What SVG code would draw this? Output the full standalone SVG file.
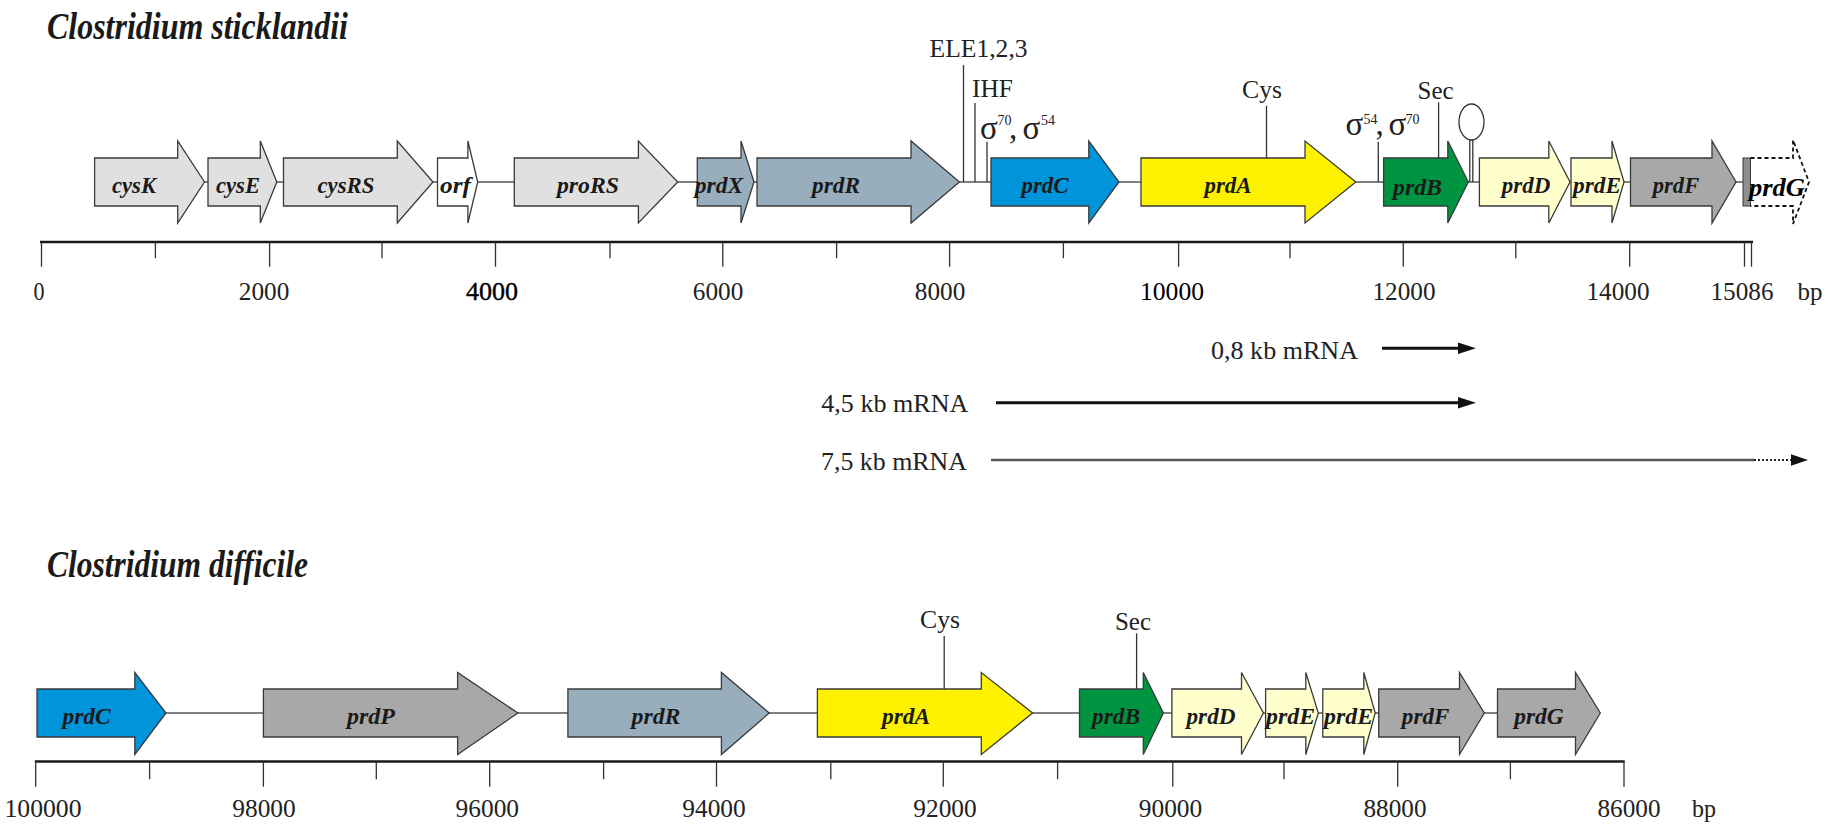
<svg xmlns="http://www.w3.org/2000/svg" width="1832" height="835" viewBox="0 0 1832 835">
<defs>
<style>
.g{stroke:#3a3a3a;stroke-width:1.3}
.lg{fill:#E0E0E0}.wh{fill:#FFFFFF}.bg{fill:#98AEBD}.bl{fill:#0094DB}.ye{fill:#FFF200}.gr{fill:#009440}.py{fill:#FFFFCC}.gy{fill:#A8A8A8}
.lab{font-family:"Liberation Serif",serif;font-style:italic;font-weight:bold;font-size:24px;fill:#1a1a1a;text-anchor:middle}
.title{font-family:"Liberation Serif",serif;font-style:italic;font-weight:bold;font-size:38px;fill:#1a1a1a}
.t{font-family:"Liberation Serif",serif;font-size:26px;fill:#222;text-anchor:middle}
.ax{font-family:"Liberation Serif",serif;font-size:26px;fill:#222;text-anchor:middle}
.mr{font-family:"Liberation Serif",serif;font-size:25px;fill:#222}
.sg{font-family:"Liberation Serif",serif;font-size:33px;fill:#222}
.sp{font-family:"Liberation Serif",serif;font-size:14px;fill:#222}
.bb{stroke:#555;stroke-width:1.5;fill:none}
.an{stroke:#333;stroke-width:1.3;fill:none}
.axis{stroke:#1a1a1a;stroke-width:2.5;fill:none}
.tk{stroke:#333;stroke-width:1.3;fill:none}
</style>
</defs>
<rect width="1832" height="835" fill="#FFFFFF"/>

<text class="title" x="47" y="39" textLength="301" lengthAdjust="spacingAndGlyphs">Clostridium sticklandii</text>
<text class="title" x="47" y="577" textLength="261" lengthAdjust="spacingAndGlyphs">Clostridium difficile</text>

<g id="connectors">
<line class="bb" x1="204" y1="182" x2="1743" y2="182"/>
<line class="bb" x1="166" y1="713" x2="1498" y2="713"/>
<line class="an" x1="963.5" y1="65" x2="963.5" y2="182"/>
<line class="an" x1="975" y1="103" x2="975" y2="182"/>
<line class="an" x1="987" y1="141.7" x2="987" y2="182"/>
<line class="an" x1="1266.5" y1="105.7" x2="1266.5" y2="158"/>
<line class="an" x1="1378.3" y1="141.7" x2="1378.3" y2="182"/>
<line class="an" x1="1438.6" y1="102.3" x2="1438.6" y2="158"/>
<line class="an" x1="944.2" y1="636" x2="944.2" y2="689"/>
<line class="an" x1="1136.6" y1="633.3" x2="1136.6" y2="689"/>
<line x1="1382" y1="348.3" x2="1460" y2="348.3" stroke="#111" stroke-width="3"/>
<polygon points="1458,342.5 1476,348.3 1458,354.1" fill="#111"/>
<line x1="996" y1="402.7" x2="1460" y2="402.7" stroke="#111" stroke-width="3"/>
<polygon points="1458,397 1476,402.7 1458,408.4" fill="#111"/>
<line x1="991" y1="460" x2="1754" y2="460" stroke="#555" stroke-width="2.5"/>
<line x1="1754" y1="460" x2="1792" y2="460" stroke="#222" stroke-width="2" stroke-dasharray="2,2"/>
<polygon points="1791,454.3 1808,460 1791,465.7" fill="#111"/>
</g>

<g id="terminator">
<line class="an" x1="1469.8" y1="140" x2="1469.8" y2="182"/>
<line class="an" x1="1472.8" y1="140" x2="1472.8" y2="182"/>
<ellipse cx="1471.5" cy="122" rx="12.5" ry="18" fill="#FFFFFF" stroke="#333" stroke-width="1.3"/>
</g>

<g id="annotations">
<text class="t" x="978.6" y="56.7" textLength="98" lengthAdjust="spacingAndGlyphs">ELE1,2,3</text>
<text class="t" x="992.5" y="96.7" textLength="41" lengthAdjust="spacingAndGlyphs">IHF</text>
<text class="t" x="1262" y="98.3" textLength="40" lengthAdjust="spacingAndGlyphs">Cys</text>
<text class="t" x="1435.6" y="99" textLength="36" lengthAdjust="spacingAndGlyphs">Sec</text>
<text class="t" x="940" y="628.3" textLength="40" lengthAdjust="spacingAndGlyphs">Cys</text>
<text class="t" x="1133" y="630" textLength="36" lengthAdjust="spacingAndGlyphs">Sec</text>
<text class="sg" x="980" y="138.5">σ</text>
<text class="sp" x="997.5" y="125">70</text>
<text class="sg" x="1009" y="138.5">,</text>
<text class="sg" x="1022.5" y="138.5">σ</text>
<text class="sp" x="1041" y="125">54</text>
<text class="sg" x="1345.5" y="135">σ</text>
<text class="sp" x="1363.5" y="124">54</text>
<text class="sg" x="1375.5" y="135">,</text>
<text class="sg" x="1388.5" y="135">σ</text>
<text class="sp" x="1405.5" y="124">70</text>
</g>

<g id="mrna-labels">
<text class="mr" x="1211" y="359.3" textLength="147" lengthAdjust="spacingAndGlyphs">0,8 kb mRNA</text>
<text class="mr" x="821.3" y="411.7" textLength="147" lengthAdjust="spacingAndGlyphs">4,5 kb mRNA</text>
<text class="mr" x="821" y="470" textLength="146" lengthAdjust="spacingAndGlyphs">7,5 kb mRNA</text>
</g>

<g id="axis-top">
<line class="axis" x1="40" y1="242" x2="1753" y2="242"/>
<path class="tk" d="M41.5,242V266.7M269.6,242V266.7M495.5,242V266.7M722.8,242V266.7M949.6,242V266.7M1178.6,242V266.7M1403.3,242V266.7M1629.7,242V266.7M1744.5,242V266.7M1751.5,242V266.7M155.4,242V258.3M382,242V258.3M610,242V258.3M836.6,242V258.3M1063.4,242V258.3M1290,242V258.3M1515.8,242V258.3"/>
<text class="ax" x="39" y="300" textLength="11" lengthAdjust="spacingAndGlyphs">0</text>
<text class="ax" x="264" y="300" textLength="50.5" lengthAdjust="spacingAndGlyphs">2000</text>
<text class="ax" x="492" y="300" textLength="52" lengthAdjust="spacingAndGlyphs" style="fill:#000;stroke:#000;stroke-width:0.4">4000</text>
<text class="ax" x="718" y="300" textLength="50.5" lengthAdjust="spacingAndGlyphs">6000</text>
<text class="ax" x="940" y="300" textLength="50.5" lengthAdjust="spacingAndGlyphs">8000</text>
<text class="ax" x="1172" y="300" textLength="64" lengthAdjust="spacingAndGlyphs" style="fill:#000">10000</text>
<text class="ax" x="1404" y="300" textLength="63" lengthAdjust="spacingAndGlyphs">12000</text>
<text class="ax" x="1618" y="300" textLength="63" lengthAdjust="spacingAndGlyphs">14000</text>
<text class="ax" x="1742" y="300" textLength="63" lengthAdjust="spacingAndGlyphs">15086</text>
<text class="ax" x="1810" y="300" textLength="25" lengthAdjust="spacingAndGlyphs">bp</text>
</g>

<g id="axis-bottom">
<line class="axis" x1="34.8" y1="761.5" x2="1624.7" y2="761.5"/>
<path class="tk" d="M35.7,761.5V786.7M263.4,761.5V786.7M489.7,761.5V786.7M716.5,761.5V786.7M943.3,761.5V786.7M1172.8,761.5V786.7M1397.7,761.5V786.7M1624,761.5V786.7M149.6,761.5V779.3M376.3,761.5V779.3M603.6,761.5V779.3M830.8,761.5V779.3M1057.6,761.5V779.3M1284,761.5V779.3M1510.4,761.5V779.3"/>
<text class="ax" x="43" y="816.7" textLength="77" lengthAdjust="spacingAndGlyphs">100000</text>
<text class="ax" x="264" y="816.7" textLength="63.5" lengthAdjust="spacingAndGlyphs">98000</text>
<text class="ax" x="487.3" y="816.7" textLength="63.5" lengthAdjust="spacingAndGlyphs">96000</text>
<text class="ax" x="714" y="816.7" textLength="63.5" lengthAdjust="spacingAndGlyphs">94000</text>
<text class="ax" x="945" y="816.7" textLength="63.5" lengthAdjust="spacingAndGlyphs">92000</text>
<text class="ax" x="1170.5" y="816.7" textLength="63.5" lengthAdjust="spacingAndGlyphs">90000</text>
<text class="ax" x="1395" y="816.7" textLength="63" lengthAdjust="spacingAndGlyphs">88000</text>
<text class="ax" x="1629" y="816.7" textLength="63" lengthAdjust="spacingAndGlyphs">86000</text>
<text class="ax" x="1704" y="816.7" textLength="24" lengthAdjust="spacingAndGlyphs">bp</text>
</g>

<g id="top-cysK"><polygon class="g lg" points="94.6,158 177.7,158 177.7,141 204.5,182 177.7,223 177.7,206 94.6,206"/><text class="lab" x="134" y="193" textLength="44" lengthAdjust="spacingAndGlyphs">cysK</text></g>
<g id="top-cysE"><polygon class="g lg" points="208,158 260.3,158 260.3,141 276.8,182 260.3,223 260.3,206 208,206"/><text class="lab" x="238" y="193" textLength="44" lengthAdjust="spacingAndGlyphs">cysE</text></g>
<g id="top-cysRS"><polygon class="g lg" points="283.5,158 397.3,158 397.3,141 433,182 397.3,223 397.3,206 283.5,206"/><text class="lab" x="346" y="193" textLength="57" lengthAdjust="spacingAndGlyphs">cysRS</text></g>
<g id="top-orf"><polygon class="g wh" points="437.5,158 467.9,158 467.9,141 477.7,182 467.9,223 467.9,206 437.5,206"/><text class="lab" x="455.5" y="193" textLength="31" lengthAdjust="spacingAndGlyphs">orf</text></g>
<g id="top-proRS"><polygon class="g lg" points="514.3,158 638.4,158 638.4,141 677.7,182 638.4,223 638.4,206 514.3,206"/><text class="lab" x="588" y="193" textLength="62" lengthAdjust="spacingAndGlyphs">proRS</text></g>
<g id="top-prdX"><polygon class="g bg" points="697.3,158 741,158 741,141 754,182 741,223 741,206 697.3,206"/><text class="lab" x="719" y="193" textLength="48.5" lengthAdjust="spacingAndGlyphs">prdX</text></g>
<g id="top-prdR"><polygon class="g bg" points="757,158 911,158 911,141 959.4,182 911,223 911,206 757,206"/><text class="lab" x="836" y="193" textLength="48" lengthAdjust="spacingAndGlyphs">prdR</text></g>
<g id="top-prdC"><polygon class="g bl" points="991,158 1088.8,158 1088.8,141 1119,182 1088.8,223 1088.8,206 991,206"/><text class="lab" x="1045" y="193" textLength="47" lengthAdjust="spacingAndGlyphs">prdC</text></g>
<g id="top-prdA"><polygon class="g ye" points="1141,158 1305,158 1305,141 1355.8,182 1305,223 1305,206 1141,206"/><text class="lab" x="1228" y="193" textLength="47" lengthAdjust="spacingAndGlyphs">prdA</text></g>
<g id="top-prdB"><polygon class="g gr" points="1383.6,158 1447.8,158 1447.8,141 1468.3,182 1447.8,223 1447.8,206 1383.6,206"/><text class="lab" x="1417.5" y="195" textLength="49" lengthAdjust="spacingAndGlyphs">prdB</text></g>
<g id="top-prdD"><polygon class="g py" points="1479.4,158 1548.8,158 1548.8,141 1570,182 1548.8,223 1548.8,206 1479.4,206"/><text class="lab" x="1526" y="193" textLength="48.5" lengthAdjust="spacingAndGlyphs">prdD</text></g>
<g id="top-prdE"><polygon class="g py" points="1571,158 1612,158 1612,141 1624,182 1612,223 1612,206 1571,206"/><text class="lab" x="1597" y="193" textLength="48" lengthAdjust="spacingAndGlyphs">prdE</text></g>
<g id="top-prdF"><polygon class="g gy" points="1630.5,158 1712,158 1712,141 1736,182 1712,223 1712,206 1630.5,206"/><text class="lab" x="1676" y="193" textLength="46.5" lengthAdjust="spacingAndGlyphs">prdF</text></g>
<g id="top-prdG">
<rect x="1743" y="158" width="7.5" height="48" fill="#8f8f8f" stroke="#3a3a3a" stroke-width="1"/>
<polyline points="1750.5,158 1793,158 1793,140 1809,182 1793,224 1793,206 1750.5,206" fill="none" stroke="#111" stroke-width="1.8" stroke-dasharray="4,3"/>
<text class="lab" x="1777" y="196" textLength="56" lengthAdjust="spacingAndGlyphs" style="fill:#000;font-size:26px">prdG</text>
</g>

<g id="bot-prdC"><polygon class="g bl" points="37,689 134.8,689 134.8,672.5 166,713 134.8,754.5 134.8,737 37,737"/><text class="lab" x="86.6" y="724" textLength="48" lengthAdjust="spacingAndGlyphs">prdC</text></g>
<g id="bot-prdP"><polygon class="g gy" points="263.4,689 457.6,689 457.6,672.5 517.9,713 457.6,754.5 457.6,737 263.4,737"/><text class="lab" x="371" y="724" textLength="48" lengthAdjust="spacingAndGlyphs">prdP</text></g>
<g id="bot-prdR"><polygon class="g bg" points="567.9,689 721.4,689 721.4,672.5 769.2,713 721.4,754.5 721.4,737 567.9,737"/><text class="lab" x="656" y="724" textLength="49" lengthAdjust="spacingAndGlyphs">prdR</text></g>
<g id="bot-prdA"><polygon class="g ye" points="817.4,689 981.3,689 981.3,672.5 1032.6,713 981.3,754.5 981.3,737 817.4,737"/><text class="lab" x="906" y="724" textLength="48" lengthAdjust="spacingAndGlyphs">prdA</text></g>
<g id="bot-prdB"><polygon class="g gr" points="1079.5,689 1143.3,689 1143.3,672.5 1163.4,713 1143.3,754.5 1143.3,737 1079.5,737"/><text class="lab" x="1116" y="724" textLength="48" lengthAdjust="spacingAndGlyphs">prdB</text></g>
<g id="bot-prdD"><polygon class="g py" points="1171.9,689 1241.5,689 1241.5,672.5 1263.4,713 1241.5,754.5 1241.5,737 1171.9,737"/><text class="lab" x="1211" y="724" textLength="49" lengthAdjust="spacingAndGlyphs">prdD</text></g>
<g id="bot-prdE1"><polygon class="g py" points="1265.6,689 1305.8,689 1305.8,672.5 1318.3,713 1305.8,754.5 1305.8,737 1265.6,737"/><text class="lab" x="1290.6" y="724" textLength="49" lengthAdjust="spacingAndGlyphs">prdE</text></g>
<g id="bot-prdE2"><polygon class="g py" points="1322.8,689 1363.8,689 1363.8,672.5 1375.2,713 1363.8,754.5 1363.8,737 1322.8,737"/><text class="lab" x="1348.6" y="724" textLength="49" lengthAdjust="spacingAndGlyphs">prdE</text></g>
<g id="bot-prdF"><polygon class="g gy" points="1378.7,689 1459.5,689 1459.5,672.5 1484.3,713 1459.5,754.5 1459.5,737 1378.7,737"/><text class="lab" x="1425.6" y="724" textLength="47.5" lengthAdjust="spacingAndGlyphs">prdF</text></g>
<g id="bot-prdG"><polygon class="g gy" points="1497.5,689 1575.5,689 1575.5,672.5 1600.3,713 1575.5,754.5 1575.5,737 1497.5,737"/><text class="lab" x="1539" y="724" textLength="49.5" lengthAdjust="spacingAndGlyphs">prdG</text></g>
</svg>
